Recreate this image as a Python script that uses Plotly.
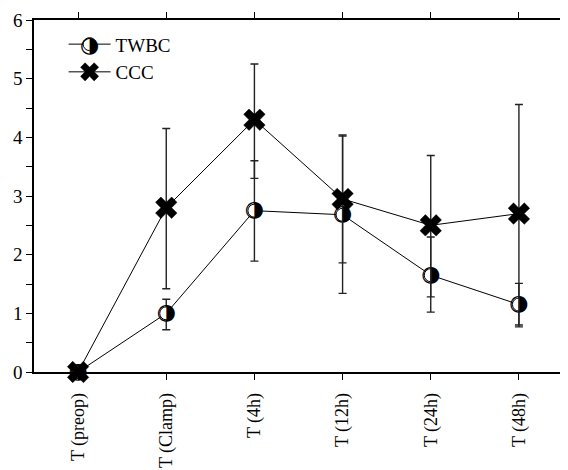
import plotly.graph_objects as go

categories = ["T (preop)", "T (Clamp)", "T (4h)", "T (12h)", "T (24h)", "T (48h)"]
twbc = [0.0, 1.0, 2.75, 2.68, 1.65, 1.15]
twbc_err_plus = [0.0, 0.24, 0.85, 1.34, 0.65, 0.36]
twbc_err_minus = [0.0, 0.28, 0.86, 1.34, 0.63, 0.38]
ccc = [0.0, 2.8, 4.3, 2.95, 2.5, 2.7]
ccc_err_plus = [0.0, 1.35, 0.95, 1.09, 1.19, 1.86]
ccc_err_minus = [0.0, 1.38, 1.0, 1.09, 1.22, 1.9]
y_tickvals = [0, 0.5, 1, 1.5, 2, 2.5, 3, 3.5, 4, 4.5, 5, 5.5, 6]
y_ticktext = ["0", "", "1", "", "2", "", "3", "", "4", "", "5", "", "6"]

FONT = "Liberation Serif, Times New Roman, serif"
GLYPH = "◑"
x = list(range(len(categories)))

fig = go.Figure()

fig.add_trace(go.Scatter(
    x=x, y=twbc, name="TWBC", mode="lines+markers",
    line=dict(color="black", width=1),
    marker=dict(symbol="circle", size=13, color="white",
                line=dict(color="black", width=1)),
    error_y=dict(type="data", symmetric=False, array=twbc_err_plus,
                 arrayminus=twbc_err_minus, color="#222", thickness=1.4, width=4),
    cliponaxis=False,
))
# half-filled glyph overlay for TWBC markers
fig.add_trace(go.Scatter(
    x=x, y=twbc, mode="text", text=[GLYPH] * len(x), showlegend=False,
    textposition="middle center",
    textfont=dict(family="DejaVu Sans", size=22, color="black"),
    cliponaxis=False, hoverinfo="skip",
))
fig.add_trace(go.Scatter(
    x=x, y=ccc, name="CCC", mode="lines+markers",
    line=dict(color="black", width=1),
    marker=dict(symbol="x", size=19, color="black",
                line=dict(color="black", width=0.5)),
    error_y=dict(type="data", symmetric=False, array=ccc_err_plus,
                 arrayminus=ccc_err_minus, color="#222", thickness=1.4, width=4),
    cliponaxis=False,
))

# page body has an 8px default margin, so the figure is sized to fit the rest
fig.update_layout(
    width=560, height=462,
    margin=dict(l=26, r=5, t=12, b=98),
    paper_bgcolor="white", plot_bgcolor="white",
    font=dict(family=FONT, size=19, color="black"),
    showlegend=True,
    legend=dict(x=0.056, y=0.985, xanchor="left", yanchor="top",
                bgcolor="rgba(0,0,0,0)", font=dict(family=FONT, size=19),
                tracegroupgap=0, itemwidth=42),
    annotations=[dict(
        text=GLYPH, xref="paper", yref="paper", x=0.105, y=0.929,
        xanchor="center", yanchor="middle", showarrow=False,
        font=dict(family="DejaVu Sans", size=22, color="black"),
    )],
)
fig.update_xaxes(
    range=[-0.5, 5.5], tickvals=x, ticktext=categories, tickangle=-90,
    showgrid=False, zeroline=False, showline=True, linecolor="black", linewidth=1.5,
    mirror="ticks", ticks="outside", ticklen=6, tickcolor="black", tickwidth=1.2,
    tickfont=dict(family=FONT, size=18), automargin=False, ticklabelstandoff=6,
)
fig.update_yaxes(
    range=[0, 6], tickvals=y_tickvals, ticktext=y_ticktext,
    showgrid=False, zeroline=False, showline=True, linecolor="black", linewidth=1.5,
    mirror="ticks", ticks="outside", ticklen=6, tickcolor="black", tickwidth=1.2,
    tickfont=dict(family=FONT, size=19), automargin=False,
)

fig.write_html("out.html")
